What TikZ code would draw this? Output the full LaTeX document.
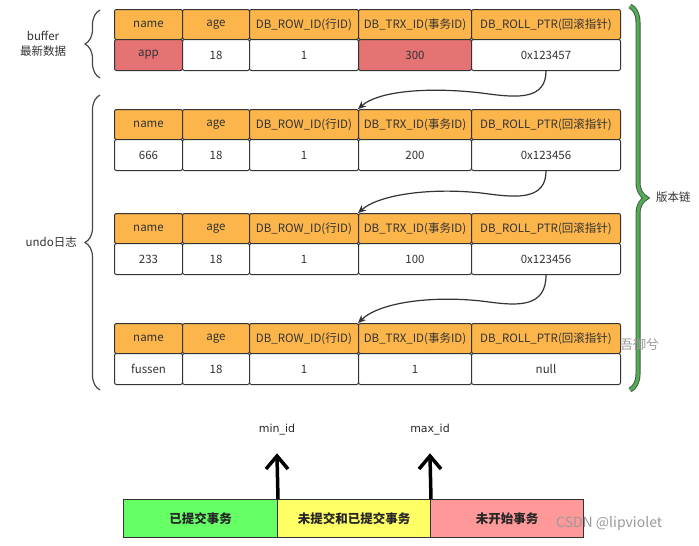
\documentclass[tikz,border=0pt]{standalone}
\usepackage{fontspec}
\setmainfont{Noto Sans CJK SC}
\newfontfamily\dejavu{DejaVu Sans}
\usetikzlibrary{arrows.meta,decorations.pathreplacing,calc}
\definecolor{hdr}{HTML}{FBB54B}
\definecolor{redc}{HTML}{E67373}
\definecolor{ink}{HTML}{333333}
\definecolor{segg}{HTML}{66FF66}
\definecolor{segy}{HTML}{FFFF66}
\definecolor{segr}{HTML}{FF9999}
\definecolor{grn}{HTML}{4CAF50}
\newcommand\mktable[9]{%
  \node[hcell, minimum width=68pt]  (#1h1) at (114,#2) {name};
  \node[hcell, minimum width=67pt]  (#1h2) at (182,#2) {age};
  \node[hcell, minimum width=109pt] (#1h3) at (249,#2) {DB\_ROW\_ID(行ID)};
  \node[hcell, minimum width=113pt] (#1h4) at (358,#2) {DB\_TRX\_ID(事务ID)};
  \node[hcell, minimum width=149pt] (#1h5) at (471,#2) {DB\_ROLL\_PTR(回滚指针)};
  \node[dcell, minimum width=68pt, fill=#8]  (#1d1) at (114,{#2+30}) {#3};
  \node[dcell, minimum width=67pt]  (#1d2) at (182,{#2+30}) {#4};
  \node[dcell, minimum width=109pt] (#1d3) at (249,{#2+30}) {#5};
  \node[dcell, minimum width=113pt, fill=#9] (#1d4) at (358,{#2+30}) {#6};
  \node[dcell, minimum width=149pt] (#1d5) at (471,{#2+30}) {#7};
}
\begin{document}
\begin{tikzpicture}[x=1pt,y=-1pt,
  cellbase/.style={draw=ink, line width=1pt, rounded corners=2pt, anchor=north west,
    inner sep=0pt, text=ink, font=\fontsize{11.5}{13}\selectfont},
  hcell/.style={cellbase, fill=hdr, minimum height=30pt},
  dcell/.style={cellbase, fill=white, minimum height=31pt},
  ptr/.style={draw=ink, line width=1.2pt, -{Stealth[length=8pt,width=7pt]}},
  bracestyle/.style={draw=ink!90, line width=1.2pt, decorate,
    decoration={brace, amplitude=15pt}},
  lbl/.style={text=ink, font=\fontsize{11.5}{13}\selectfont, inner sep=0pt, align=center},
  seg/.style={draw=ink, line width=1pt, anchor=north west, inner sep=0pt,
    minimum height=38pt, font=\bfseries\fontsize{12.5}{14}\selectfont, text=black!85},
  big/.style={draw=black, line width=3.5pt},
  idlbl/.style={font=\dejavu\fontsize{11}{13}\selectfont, text=black!85, inner sep=0pt},
  wm/.style={text=black!40, inner sep=0pt}
]
\fill[white] (0,0) rectangle (699,546);
\useasboundingbox (0,0) rectangle (699,546);

\mktable{ta}{9}{app}{18}{1}{300}{0x123457}{redc}{redc}
\mktable{tb}{109}{666}{18}{1}{200}{0x123456}{white}{white}
\mktable{tc}{213}{233}{18}{1}{100}{0x123456}{white}{white}
\mktable{td}{323}{fussen}{18}{1}{1}{null}{white}{white}

% version chain arrows
\draw[ptr] (tad5.south) .. controls +(0,28) and +(30,4) .. ($(tad5.south)+(-57,23)$)
   .. controls +(-50,-7) and +(23,-20) .. (tbh4.north west);
\draw[ptr] (tbd5.south) .. controls +(0,28) and +(30,4) .. ($(tbd5.south)+(-57,23)$)
   .. controls +(-50,-7) and +(23,-20) .. (tch4.north west);
\draw[ptr] (tcd5.south) .. controls +(0,32) and +(30,4) .. ($(tcd5.south)+(-57,27)$)
   .. controls +(-50,-7) and +(23,-22) .. (tdh4.north west);

% left braces
\coordinate (b1s) at (100,78);
\coordinate (b1e) at (100,10);
\draw[bracestyle] (b1s) -- (b1e);
\coordinate (b2s) at (100,390);
\coordinate (b2e) at (100,95);
\draw[bracestyle] (b2s) -- (b2e);
\node[lbl] (lbuf) at (43,36) {buffer};
\node[lbl] (lnew) at (43,51) {最新数据};
\node[lbl, anchor=east] (lundo) at (77,242) {undo日志};

% green brace
\coordinate (g1s) at (630,6);
\coordinate (g1e) at (630,390);
\draw[line width=5pt, draw=black!70, decorate, decoration={brace, amplitude=16pt}] (g1s) -- (g1e);
\draw[line width=3.2pt, draw=grn, decorate, decoration={brace, amplitude=16pt}] (g1s) -- (g1e);
\node[lbl, anchor=west] (lver) at (656,197) {版本链};

% bottom bar
\node[seg, fill=segg, minimum width=154pt] (s1) at (123,499) {已提交事务};
\node[seg, fill=segy, minimum width=153pt] (s2) at (277,499) {未提交和已提交事务};
\node[seg, fill=segr, minimum width=153pt] (s3) at (430,499) {未开始事务};

\node[idlbl] (minid) at (277,430) {min\_id};
\node[idlbl] (maxid) at (430,430) {max\_id};
\coordinate (a1) at (277,456);
\coordinate (a2) at (430,456);
\draw[big] (s1.north east) -- (a1);
\draw[big] (s2.north east) -- (a2);
\draw[big, line join=miter] ($(a1)+(-11,13)$) -- (a1) -- ($(a1)+(11,13)$);
\draw[big, line join=miter] ($(a2)+(-11,13)$) -- (a2) -- ($(a2)+(11,13)$);

% watermarks
\node[wm, anchor=west, font=\fontsize{14}{16}\selectfont] (wm1) at (556,524) {CSDN @lipviolet};
\node[wm, anchor=west, font=\fontsize{13}{15}\selectfont] (wm2) at (620,345) {吾御兮};
\end{tikzpicture}
\end{document}
